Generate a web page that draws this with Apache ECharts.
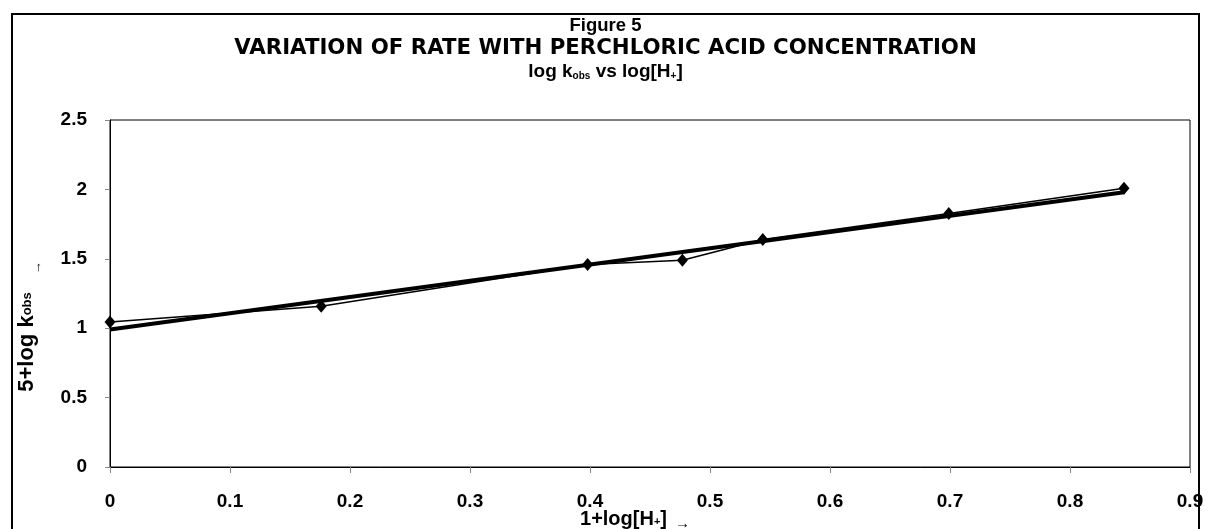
<!DOCTYPE html>
<html>
<head>
<meta charset="utf-8">
<script src="https://cdn.jsdelivr.net/npm/echarts@6/dist/echarts.min.js"></script>
<style>
  html, body { margin: 0; padding: 0; background: #fff; }
  #chart { width: 1211px; height: 529px; }
</style>
</head>
<body>
<div id="chart"></div>
<script>
// 1+log[H+] values and measured 5+log kobs
var logH = [0, 0.176, 0.398, 0.477, 0.544, 0.699, 0.845];
var logK = [1.045, 1.158, 1.459, 1.49, 1.639, 1.826, 2.009];
// linear trend line end points
var trendX = [0, 0.845];
var trendY = [0.99, 1.98];

var xTicks = ["0", "0.1", "0.2", "0.3", "0.4", "0.5", "0.6", "0.7", "0.8", "0.9"];
var yTicks = ["0", "0.5", "1", "1.5", "2", "2.5"];

var font = "Liberation Sans, Arial, sans-serif";
var wide = "DejaVu Sans, sans-serif";

var points = logH.map(function (x, i) { return [x, logK[i]]; });
var trend = trendX.map(function (x, i) { return [x, trendY[i]]; });

var myChart = echarts.init(document.getElementById("chart"));
var option = {
  backgroundColor: "#fff",
  animation: false,
  title: {
    left: "center",
    top: 9,
    text: "{a|Figure 5}\n{w|VARIATION OF RATE WITH PERCHLORIC ACID CONCENTRATION}\n{b|log k}{s|obs}{b| vs log[H}{s|+}{b|]}",
    textStyle: {
      rich: {
        a: { fontFamily: font, fontWeight: "bold", fontSize: 18.5, color: "#000", lineHeight: 23 },
        w: { fontFamily: wide, fontWeight: "bold", fontSize: 21.3, color: "#000", lineHeight: 23 },
        b: { fontFamily: font, fontWeight: "bold", fontSize: 19, color: "#000", lineHeight: 23 },
        s: { fontFamily: font, fontWeight: "bold", fontSize: 10, color: "#000", lineHeight: 23, verticalAlign: "bottom", padding: [0, 0, 2, 0] }
      }
    }
  },
  graphic: [
    {
      type: "rect",
      shape: { x: 12, y: 14, width: 1187, height: 540 },
      style: { fill: null, stroke: "#000", lineWidth: 2 },
      silent: true
    }
  ],
  grid: {
    left: 110, right: 21, top: 120, bottom: 62,
    containLabel: false,
    outerBoundsMode: "none",
    show: true, borderColor: "#000", borderWidth: 1
  },
  xAxis: {
    type: "value",
    min: 0,
    max: 0.9,
    interval: 0.1,
    name: "{b|1+log[H}{s|+}{b|]}{a|→}",
    nameLocation: "middle",
    nameGap: 40,
    nameMoveOverlap: false,
    nameTextStyle: {
      padding: [0, 0, 0, -30],
      rich: {
        b: { fontFamily: font, fontWeight: "bold", fontSize: 20, color: "#000", lineHeight: 24 },
        s: { fontFamily: font, fontWeight: "bold", fontSize: 11, color: "#000", lineHeight: 24, verticalAlign: "bottom", padding: [0, 0, 4, 0] },
        a: { fontFamily: font, fontSize: 15, color: "#000", lineHeight: 24, verticalAlign: "bottom", padding: [0, 0, 0, 8] }
      }
    },
    axisLine: { lineStyle: { color: "#000", width: 1 } },
    axisTick: { show: true, inside: false, length: 6, lineStyle: { color: "#888" } },
    splitLine: { show: false },
    axisLabel: {
      margin: 25,
      fontFamily: font,
      fontWeight: "bold",
      fontSize: 19,
      color: "#000",
      formatter: function (v) { return xTicks[Math.round(v * 10)]; }
    }
  },
  yAxis: {
    type: "value",
    min: 0,
    max: 2.5,
    interval: 0.5,
    name: "{b|5+log k}{p|obs}{a|→}",
    nameLocation: "middle",
    nameRotate: 90,
    nameGap: 66,
    nameMoveOverlap: false,
    nameTextStyle: {
      padding: [0, 66, 0, 0],
      rich: {
        b: { fontFamily: font, fontWeight: "bold", fontSize: 22, color: "#000", lineHeight: 34 },
        p: { fontFamily: font, fontWeight: "bold", fontSize: 13, color: "#000", lineHeight: 34 },
        a: { fontFamily: font, fontSize: 13, color: "#000", lineHeight: 34, verticalAlign: "bottom", padding: [0, 0, 0, 18] }
      }
    },
    axisLine: { show: true, lineStyle: { color: "#000", width: 1 } },
    axisTick: { show: true, inside: false, length: 5, lineStyle: { color: "#888" } },
    splitLine: { show: false },
    axisLabel: {
      margin: 23,
      fontFamily: font,
      fontWeight: "bold",
      fontSize: 19,
      color: "#000",
      formatter: function (v) { return yTicks[Math.round(v * 2)]; }
    }
  },
  series: [
    {
      name: "trend",
      type: "line",
      data: trend,
      symbol: "none",
      lineStyle: { color: "#000", width: 4 },
      z: 2
    },
    {
      name: "5+log kobs",
      type: "line",
      data: points,
      symbol: "diamond",
      symbolSize: [11, 13],
      itemStyle: { color: "#000" },
      lineStyle: { color: "#000", width: 1.5 },
      z: 3
    }
  ]
};
myChart.setOption(option);
</script>
</body>
</html>
